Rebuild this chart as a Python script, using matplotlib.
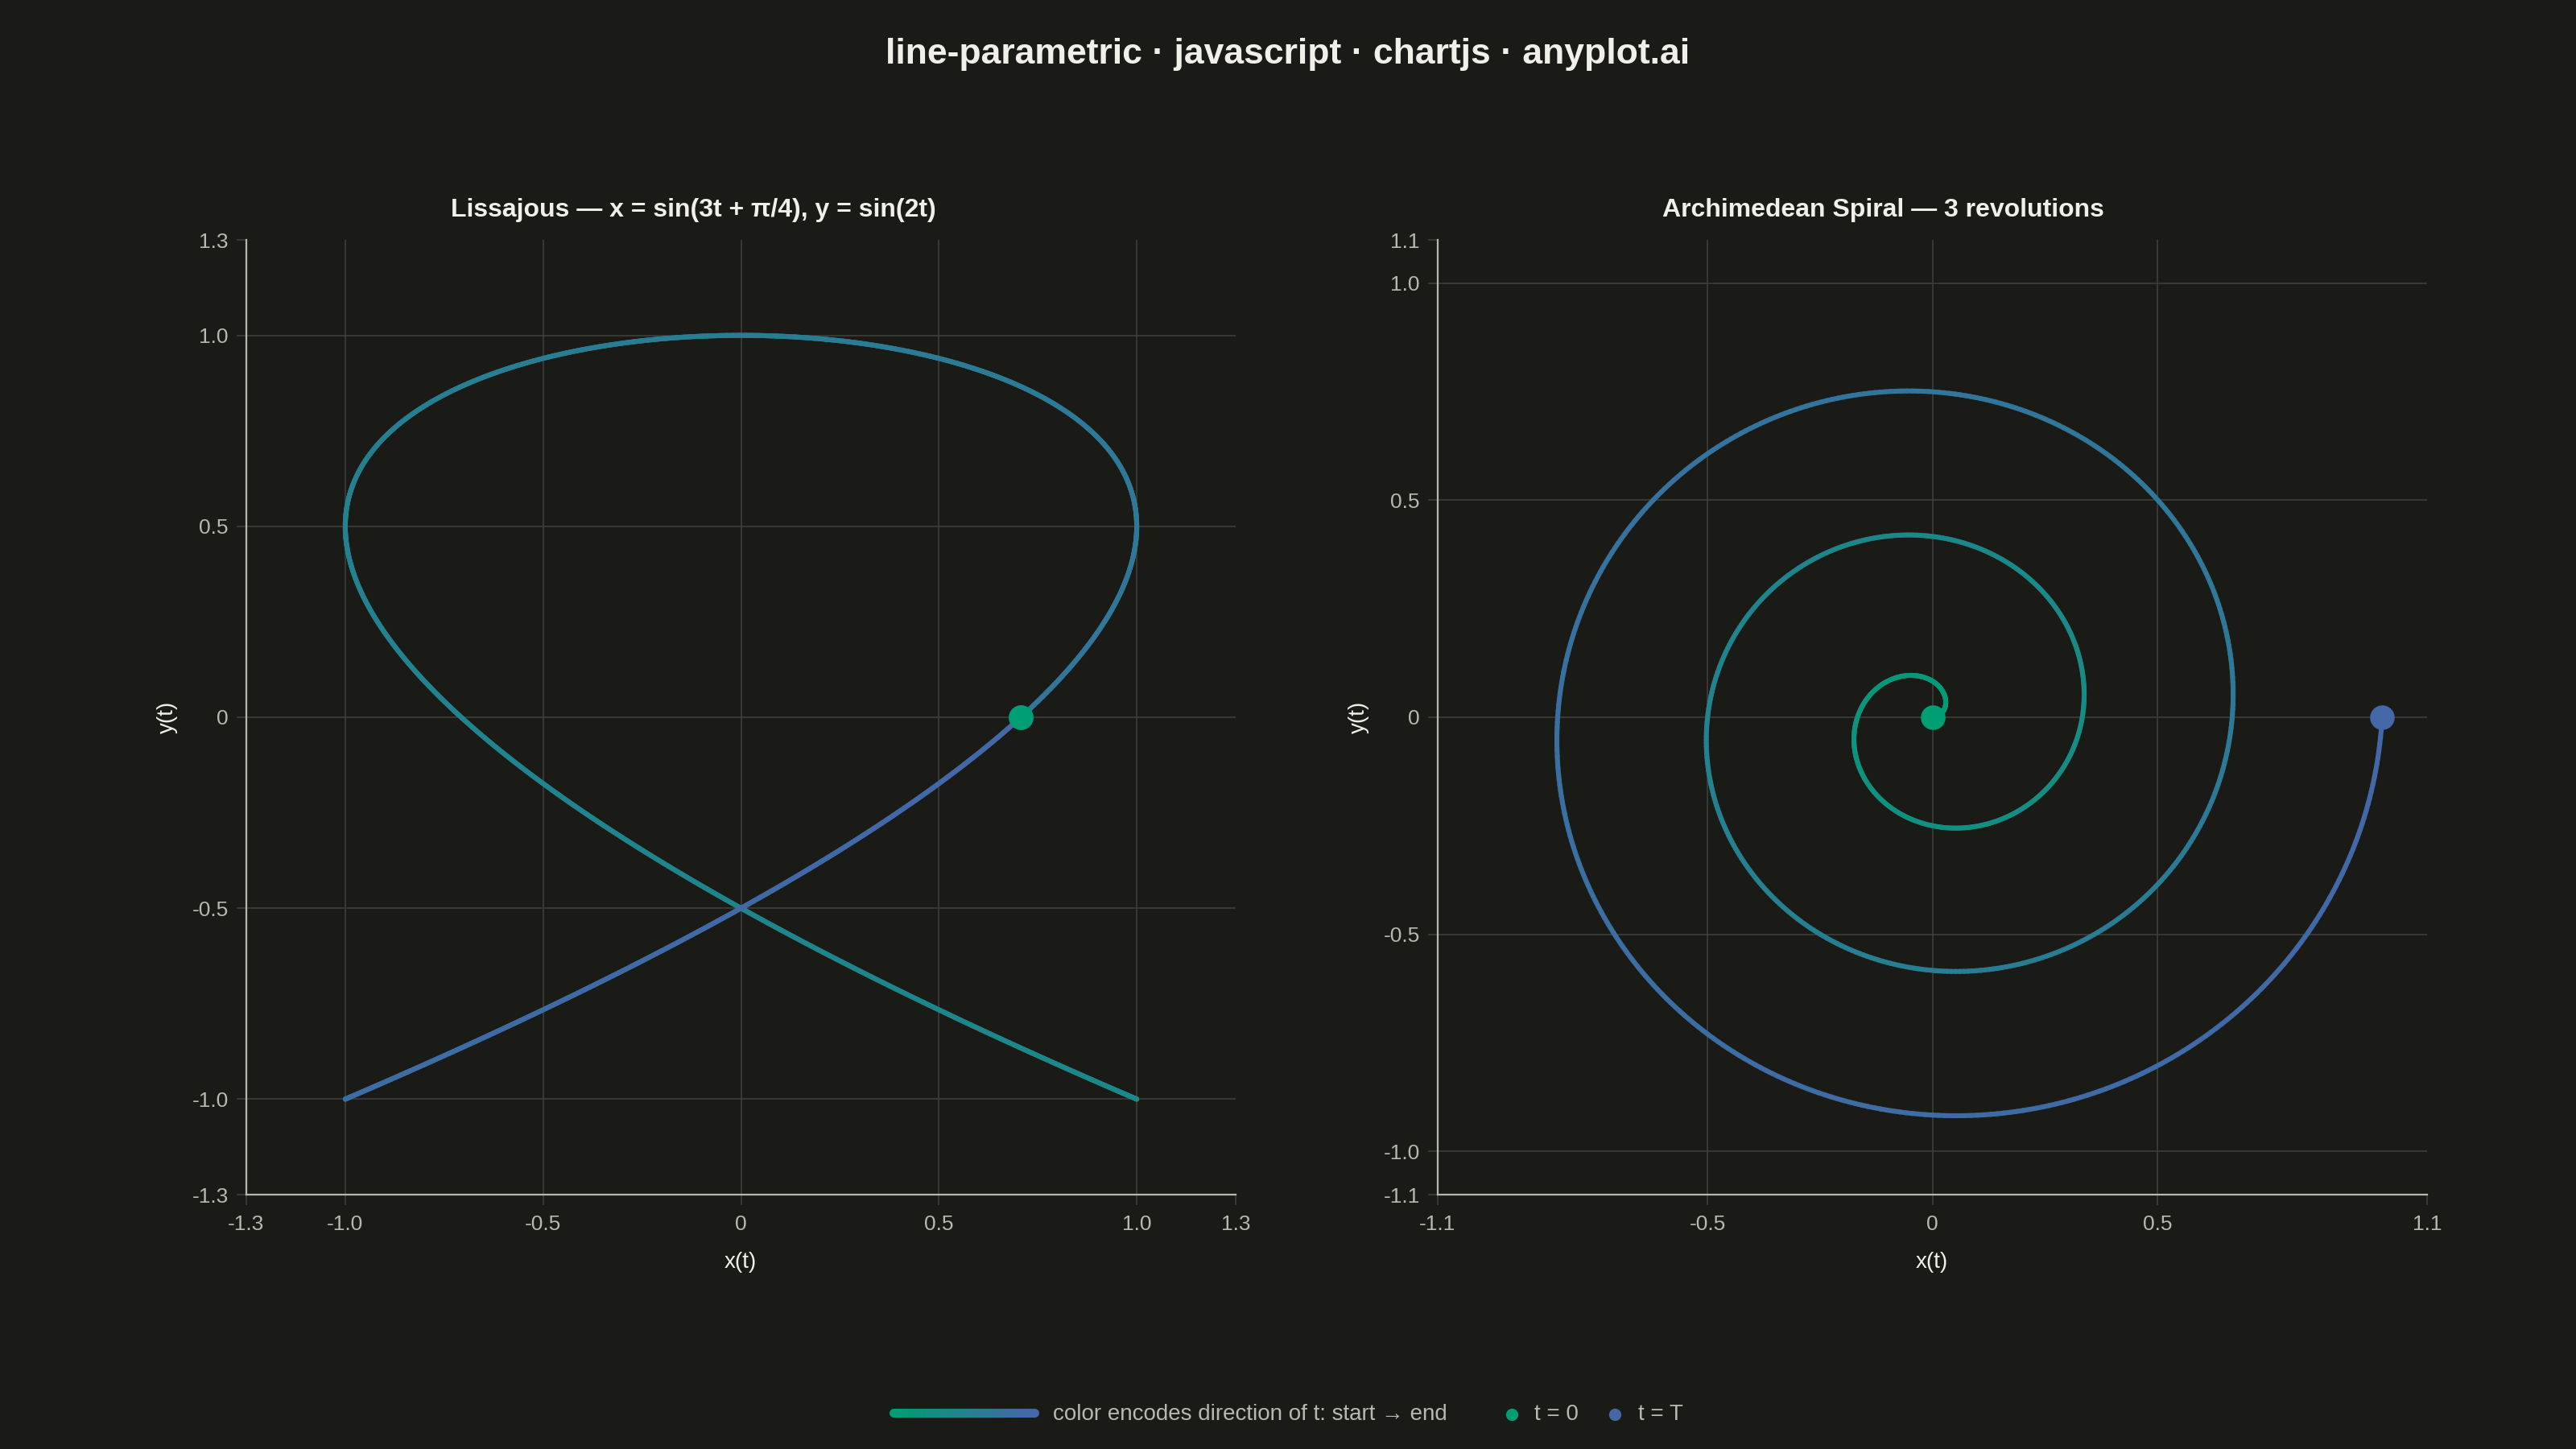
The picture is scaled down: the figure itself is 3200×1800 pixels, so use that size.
import numpy as np
import matplotlib
matplotlib.use("Agg")
import matplotlib.pyplot as plt
from matplotlib.collections import LineCollection
from matplotlib.colors import LinearSegmentedColormap

# curve parameters, as stated in the panel titles
LISSAJOUS_A = 3
LISSAJOUS_B = 2
LISSAJOUS_PHASE = np.pi / 4
SPIRAL_TURNS = 3
SPIRAL_R_END = 1.0
N_POINTS = 1200

# axis ranges and ticks (chart.js prints 1.25 as "1.3")
LEFT_LIM = 1.25
LEFT_TICKS = [-1.25, -1.0, -0.5, 0, 0.5, 1.0, 1.25]
LEFT_LABELS = ["-1.3", "-1.0", "-0.5", "0", "0.5", "1.0", "1.3"]
RIGHT_LIM = 1.1
RIGHT_XTICKS = [-1.1, -0.5, 0, 0.5, 1.1]
RIGHT_XLABELS = ["-1.1", "-0.5", "0", "0.5", "1.1"]
RIGHT_YTICKS = [-1.1, -1.0, -0.5, 0, 0.5, 1.0, 1.1]
RIGHT_YLABELS = ["-1.1", "-1.0", "-0.5", "0", "0.5", "1.0", "1.1"]

TITLE = "line-parametric · javascript · chartjs · anyplot.ai"
LEFT_TITLE = "Lissajous — x = sin(3t + π/4), y = sin(2t)"
RIGHT_TITLE = "Archimedean Spiral — 3 revolutions"
LEGEND_LINE = "color encodes direction of t: start → end"
LEGEND_START = "t = 0"
LEGEND_END = "t = T"

BG = "#1a1a17"
TEXT = "#f0efe8"
TICK_TEXT = "#b8b8b0"
SPINE = "#b8b8b0"
GRID = "#3e3e3a"
C_START = "#009e73"
C_END = "#4467a8"

plt.rcParams["font.family"] = ["Liberation Sans", "DejaVu Sans"]

cmap = LinearSegmentedColormap.from_list("dir", [C_START, C_END])

W, H = 3200, 1800
fig = plt.figure(figsize=(16, 9), dpi=200, facecolor=BG)


def px_axes(x0, y0, x1, y1):
    # pixel box (top-left origin) -> figure axes
    return fig.add_axes([x0 / W, 1 - y1 / H, (x1 - x0) / W, (y1 - y0) / H])


def gradient_line(ax, x, y, lw=2.2):
    pts = np.column_stack([x, y]).reshape(-1, 1, 2)
    segs = np.concatenate([pts[:-1], pts[1:]], axis=1)
    lc = LineCollection(segs, cmap=cmap, linewidths=lw, capstyle="round",
                        joinstyle="round", zorder=3)
    lc.set_array(np.linspace(0, 1, len(segs)))
    ax.add_collection(lc)


def style_axes(ax, lim, xticks, xlabels, yticks, ylabels):
    ax.set_facecolor(BG)
    ax.set_xlim(-lim, lim)
    ax.set_ylim(-lim, lim)
    ax.set_xticks(xticks, xlabels)
    ax.set_yticks(yticks, ylabels)
    for s in ["top", "right"]:
        ax.spines[s].set_visible(False)
    for s in ["left", "bottom"]:
        ax.spines[s].set_color(SPINE)
        ax.spines[s].set_linewidth(0.8)
    ax.tick_params(colors=GRID, labelcolor=TICK_TEXT, labelsize=9.5,
                   length=4.5, width=0.6)
    ax.tick_params(axis="x", pad=4.5)
    ax.tick_params(axis="y", pad=3.5)
    for v in xticks:
        if abs(v) < lim - 1e-9:
            ax.axvline(v, color=GRID, lw=0.6, zorder=1)
    for v in yticks:
        if abs(v) < lim - 1e-9:
            ax.axhline(v, color=GRID, lw=0.6, zorder=1)


# Lissajous
t = np.linspace(0, 2 * np.pi, N_POINTS)
lx = np.sin(LISSAJOUS_A * t + LISSAJOUS_PHASE)
ly = np.sin(LISSAJOUS_B * t)

ax1 = px_axes(306, 298, 1535, 1484)
style_axes(ax1, LEFT_LIM, LEFT_TICKS, LEFT_LABELS, LEFT_TICKS, LEFT_LABELS)
gradient_line(ax1, lx, ly)
ax1.plot(lx[-1], ly[-1], "o", ms=10, color=C_END, zorder=4, clip_on=False)
ax1.plot(lx[0], ly[0], "o", ms=10, color=C_START, zorder=5, clip_on=False)

# Archimedean spiral
theta = np.linspace(0, SPIRAL_TURNS * 2 * np.pi, N_POINTS)
r = SPIRAL_R_END * theta / theta[-1]
sx = r * np.cos(theta)
sy = r * np.sin(theta)

ax2 = px_axes(1786, 298, 3015, 1484)
style_axes(ax2, RIGHT_LIM, RIGHT_XTICKS, RIGHT_XLABELS, RIGHT_YTICKS, RIGHT_YLABELS)
gradient_line(ax2, sx, sy)
ax2.plot(sx[0], sy[0], "o", ms=10, color=C_START, zorder=5, clip_on=False)
ax2.plot(sx[-1], sy[-1], "o", ms=10, color=C_END, zorder=5, clip_on=False)

# titles and axis labels
fig.text(0.5, 1 - 67 / H, TITLE, color=TEXT, fontsize=16, fontweight="bold",
         ha="center", va="center")
panels = [(LEFT_TITLE, 861, 920, 208), (RIGHT_TITLE, 2339, 2400, 1688)]
for title, tx, xc, ylx in panels:
    fig.text(tx / W, 1 - 261 / H, title, color=TEXT, fontsize=11.5,
             fontweight="bold", ha="center", va="center")
    fig.text(xc / W, 1 - 1568 / H, "x(t)", color=TEXT, fontsize=10,
             ha="center", va="center")
    fig.text(ylx / W, 1 - 891 / H, "y(t)", color=TEXT, fontsize=10,
             ha="center", va="center", rotation=90)

# legend
leg = px_axes(1100, 1735, 1295, 1775)
leg.set_xlim(0, 1)
leg.set_ylim(0, 1)
leg.axis("off")
gx = np.linspace(0.05, 0.95, 60)
gradient_line(leg, gx, np.full_like(gx, 0.5), lw=4.0)
fig.text(1308 / W, 1 - 1757 / H, LEGEND_LINE, color=TICK_TEXT, fontsize=10,
         ha="left", va="center")
fig.lines.append(plt.Line2D([1878 / W], [1 - 1757 / H], marker="o", ms=4.5,
                            color=C_START, transform=fig.transFigure))
fig.text(1906 / W, 1 - 1757 / H, LEGEND_START, color=TICK_TEXT, fontsize=10,
         ha="left", va="center")
fig.lines.append(plt.Line2D([2006 / W], [1 - 1757 / H], marker="o", ms=4.5,
                            color=C_END, transform=fig.transFigure))
fig.text(2035 / W, 1 - 1757 / H, LEGEND_END, color=TICK_TEXT, fontsize=10,
         ha="left", va="center")

fig.savefig("out.png", dpi=200, facecolor=BG)
